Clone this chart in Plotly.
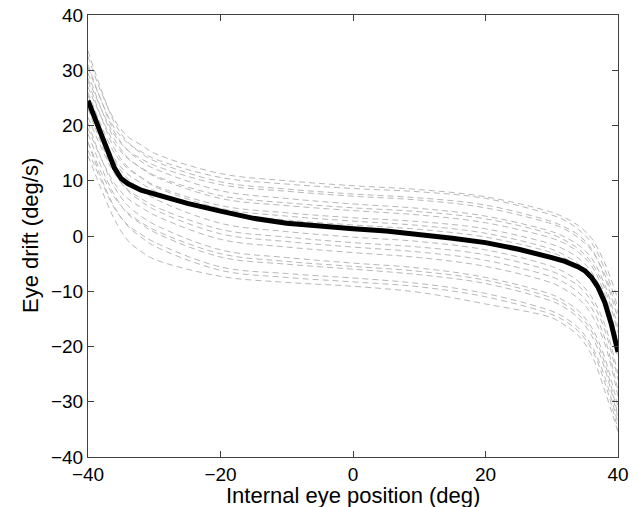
import plotly.graph_objects as go

# Thick mean curve
x_mean = [-40, -39, -38, -37, -36, -35, -34, -32, -30, -25, -20, -15, -10, -5, 0,
          5, 10, 15, 20, 25, 30, 32, 34, 35, 36, 37, 38, 39, 40]
y_mean = [24.5, 21.5, 18.5, 15.2, 12.3, 10.4, 9.5, 8.3, 7.6, 5.9, 4.5, 3.2, 2.3, 1.7, 1.3,
          0.9, 0.3, -0.4, -1.2, -2.4, -3.9, -4.6, -5.6, -6.3, -7.5, -9.3, -12.0, -16.0, -21.0]

# Individual dashed curves
x_ind = [-40, -38, -36, -34, -32, -30, -20, -10, 0, 10, 20, 30, 32, 34, 36, 38, 40]
y_ind = [
    [32.5, 26.0, 21.0, 18.0, 16.5, 15.0, 11.3, 10.0, 9.1, 8.4, 7.1, 4.3, 3.3, 1.9, -0.4, -4.9, -11.5],
    [30.5, 24.5, 19.5, 16.8, 15.3, 14.0, 10.6, 9.4, 8.6, 8.0, 6.8, 3.8, 2.8, 1.2, -1.2, -6.0, -13.0],
    [33.5, 26.5, 20.5, 17.0, 15.0, 13.6, 9.8, 8.5, 7.6, 6.9, 5.6, 2.6, 1.6, 0.2, -2.3, -7.5, -15.0],
    [28.5, 23.0, 18.3, 15.5, 14.0, 12.8, 9.3, 8.1, 7.2, 6.5, 5.1, 2.2, 1.2, -0.3, -2.6, -7.0, -14.0],
    [31.0, 24.5, 18.8, 15.5, 13.5, 12.2, 8.2, 6.8, 5.8, 5.0, 3.6, 0.8, -0.2, -1.6, -4.0, -8.8, -16.5],
    [27.0, 21.5, 16.8, 14.0, 12.4, 11.0, 7.3, 6.0, 5.1, 4.4, 3.1, 0.3, -0.8, -2.3, -4.8, -9.5, -17.5],
    [29.5, 23.0, 17.5, 14.2, 12.3, 10.8, 6.8, 5.5, 4.6, 3.8, 2.4, -0.4, -1.4, -2.9, -5.4, -10.5, -19.0],
    [26.0, 20.0, 15.0, 12.2, 10.6, 9.2, 5.5, 4.2, 3.3, 2.6, 1.3, -1.5, -2.5, -4.0, -6.5, -11.0, -19.5],
    [28.0, 21.5, 15.8, 12.5, 10.6, 9.0, 5.0, 3.6, 2.7, 1.9, 0.5, -2.4, -3.5, -5.0, -7.6, -12.5, -21.0],
    [24.0, 18.5, 14.0, 11.2, 9.6, 8.2, 4.3, 2.9, 2.0, 1.2, -0.2, -3.0, -4.0, -5.5, -8.0, -12.8, -22.0],
    [25.5, 19.0, 13.6, 10.3, 8.4, 6.8, 2.3, 0.8, -0.2, -1.0, -2.5, -5.5, -6.6, -8.2, -11.0, -16.0, -25.0],
    [21.5, 16.0, 11.3, 8.4, 6.8, 5.4, 1.2, -0.2, -1.2, -2.0, -3.4, -6.4, -7.5, -9.0, -11.8, -17.0, -26.0],
    [23.0, 16.8, 11.5, 8.2, 6.3, 4.8, 0.4, -1.0, -2.0, -2.9, -4.4, -7.4, -8.5, -10.2, -13.0, -18.5, -28.0],
    [19.5, 14.0, 9.5, 6.8, 5.2, 3.8, -0.6, -2.0, -3.0, -3.9, -5.5, -8.5, -9.7, -11.3, -14.2, -19.5, -29.0],
    [20.5, 14.0, 8.8, 5.5, 3.6, 2.1, -2.5, -3.9, -4.9, -5.8, -7.5, -10.6, -11.8, -13.5, -16.5, -22.0, -31.0],
    [17.0, 11.5, 7.0, 4.2, 2.5, 1.1, -3.2, -4.6, -5.5, -6.4, -8.0, -11.2, -12.4, -14.2, -17.2, -23.0, -32.5],
    [18.5, 12.5, 7.4, 4.0, 2.2, 0.7, -3.8, -5.1, -6.0, -7.0, -8.6, -11.8, -13.0, -14.8, -18.0, -24.0, -33.0],
    [15.5, 10.0, 5.0, 2.0, 0.3, -1.1, -5.6, -6.8, -7.6, -8.6, -10.4, -13.6, -14.8, -16.6, -19.8, -25.5, -34.0],
    [17.0, 10.5, 5.2, 1.8, -0.2, -1.8, -6.2, -7.5, -8.3, -9.2, -11.0, -14.2, -15.4, -17.2, -20.4, -26.5, -35.0],
    [14.5, 8.5, 3.0, -0.8, -2.8, -4.2, -7.3, -8.4, -9.1, -10.2, -12.3, -14.8, -16.2, -18.0, -21.5, -28.0, -35.5],
]

x_ticks = [-40, -20, 0, 20, 40]
y_ticks = [-40, -30, -20, -10, 0, 10, 20, 30, 40]
x_title = "Internal eye position (deg)"
y_title = "Eye drift (deg/s)"

fig = go.Figure()
for ys in y_ind:
    fig.add_trace(go.Scatter(
        x=x_ind, y=ys, mode="lines", line_shape="spline",
        line=dict(color="#b8b8b8", width=1, dash="6px,4px"),
        showlegend=False, hoverinfo="skip"))
fig.add_trace(go.Scatter(
    x=x_mean, y=y_mean, mode="lines",
    line=dict(color="black", width=5), showlegend=False))

family = "Liberation Sans, Arial, sans-serif"
font = dict(family=family, size=19, color="black")
axis_common = dict(
    showline=True, linecolor="#404040", linewidth=1, mirror="ticks",
    ticks="inside", ticklen=6, tickcolor="#404040", showgrid=False, zeroline=False,
    tickfont=font, automargin=False)

fig.update_layout(
    width=639, height=507,
    margin=dict(l=88, r=21, t=15, b=50),
    paper_bgcolor="white", plot_bgcolor="white",
    font=font,
    xaxis=dict(range=[-40, 40], tickvals=x_ticks, **axis_common),
    yaxis=dict(range=[-40, 40], tickvals=y_ticks, **axis_common),
    annotations=[
        dict(text=x_title, xref="paper", yref="paper", x=0.5, y=0, yshift=-38,
             xanchor="center", yanchor="middle", showarrow=False,
             font=dict(family=family, size=22, color="black")),
        dict(text=y_title, xref="paper", yref="paper", x=0, y=0.5, xshift=-58,
             xanchor="center", yanchor="middle", textangle=-90, showarrow=False,
             font=dict(family=family, size=22, color="black")),
    ],
)

fig.write_html("out.html", config={"displayModeBar": False},
               post_script="document.body.style.margin='0';document.body.style.overflow='hidden';")
